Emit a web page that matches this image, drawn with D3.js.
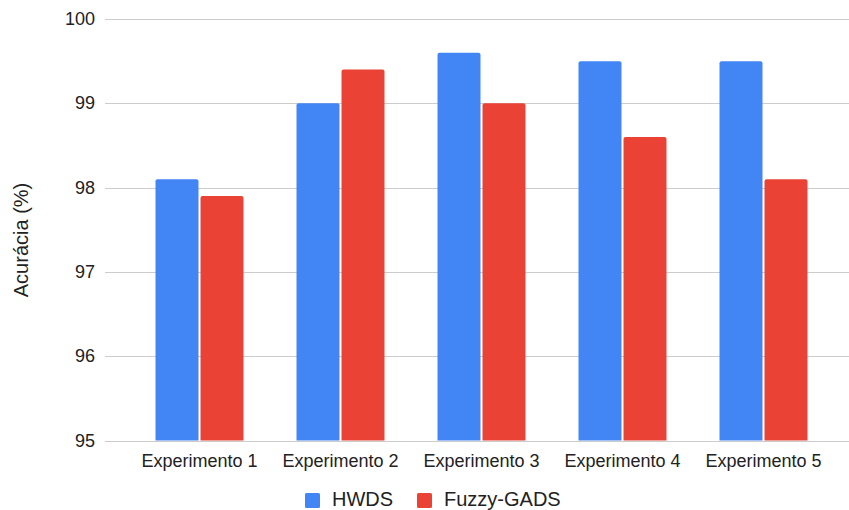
<!DOCTYPE html>
<html>
<head>
<meta charset="utf-8">
<script src="https://cdn.jsdelivr.net/npm/d3@7"></script>
<style>
  html, body { margin: 0; padding: 0; background: #fff; }
  svg { display: block; font-family: "Liberation Sans", Arial, sans-serif; }
</style>
</head>
<body>
<svg id="chart" width="849" height="510"></svg>
<script>
// Accuracy per experiment for the two methods
const experiments = ["Experimento 1", "Experimento 2", "Experimento 3", "Experimento 4", "Experimento 5"];
const seriesNames = ["HWDS", "Fuzzy-GADS"];
const hwds = [98.1, 99.0, 99.6, 99.5, 99.5];
const fuzzyGads = [97.9, 99.4, 99.0, 98.6, 98.1];
const yTicks = [95, 96, 97, 98, 99, 100];
const colors = ["#4285F4", "#EA4335"];

const svg = d3.select("#chart");

const gridLeft = 105, gridRight = 849;
const x = d3.scaleBand().domain(experiments).range([129, 834]).paddingInner(0.376).paddingOuter(0.188);
const xs = d3.scaleBand().domain(seriesNames).range([0, x.bandwidth()]).paddingInner(0.045);
const y = d3.scaleLinear().domain([95, 100]).range([440.5, 19]);

// horizontal gridlines
svg.append("g").selectAll("line").data(yTicks).join("line")
  .attr("x1", gridLeft).attr("x2", gridRight)
  .attr("y1", d => Math.round(y(d)) + 0.5).attr("y2", d => Math.round(y(d)) + 0.5)
  .attr("stroke", "#cccccc").attr("stroke-width", 1);

// y tick labels
svg.append("g").selectAll("text").data(yTicks).join("text")
  .attr("x", 95).attr("y", d => y(d))
  .attr("text-anchor", "end").attr("dominant-baseline", "central")
  .attr("font-size", 18).attr("fill", "#222")
  .text(d => d);

// y axis title
svg.append("text")
  .attr("transform", `translate(28, 240) rotate(-90)`)
  .attr("text-anchor", "middle")
  .attr("font-size", 20).attr("fill", "#222")
  .text("Acurácia (%)");

// bars
const values = [hwds, fuzzyGads];
const rows = [];
experiments.forEach((e, i) => {
  seriesNames.forEach((s, j) => rows.push({ e, s, j, v: values[j][i] }));
});

svg.append("g").selectAll("path").data(rows).join("path")
  .attr("d", d => {
    const x0 = x(d.e) + xs(d.s), w = xs.bandwidth();
    const top = y(d.v), bot = y(95), r = 2;
    return `M${x0},${bot} L${x0},${top + r} Q${x0},${top} ${x0 + r},${top} L${x0 + w - r},${top} Q${x0 + w},${top} ${x0 + w},${top + r} L${x0 + w},${bot} Z`;
  })
  .attr("fill", d => colors[d.j]);

// x category labels
svg.append("g").selectAll("text").data(experiments).join("text")
  .attr("x", d => x(d) + x.bandwidth() / 2).attr("y", 467)
  .attr("text-anchor", "middle")
  .attr("font-size", 18).attr("fill", "#222")
  .text(d => d);

// legend
const legend = svg.append("g");
const legendItems = [{ name: seriesNames[0], x: 305 }, { name: seriesNames[1], x: 417 }];
legendItems.forEach((it, i) => {
  legend.append("rect").attr("x", it.x).attr("y", 493).attr("width", 15).attr("height", 15)
    .attr("rx", 1.5).attr("fill", colors[i]);
  legend.append("text").attr("x", it.x + 27).attr("y", 505.5)
    .attr("font-size", 20).attr("fill", "#222").text(it.name);
});
</script>
</body>
</html>
